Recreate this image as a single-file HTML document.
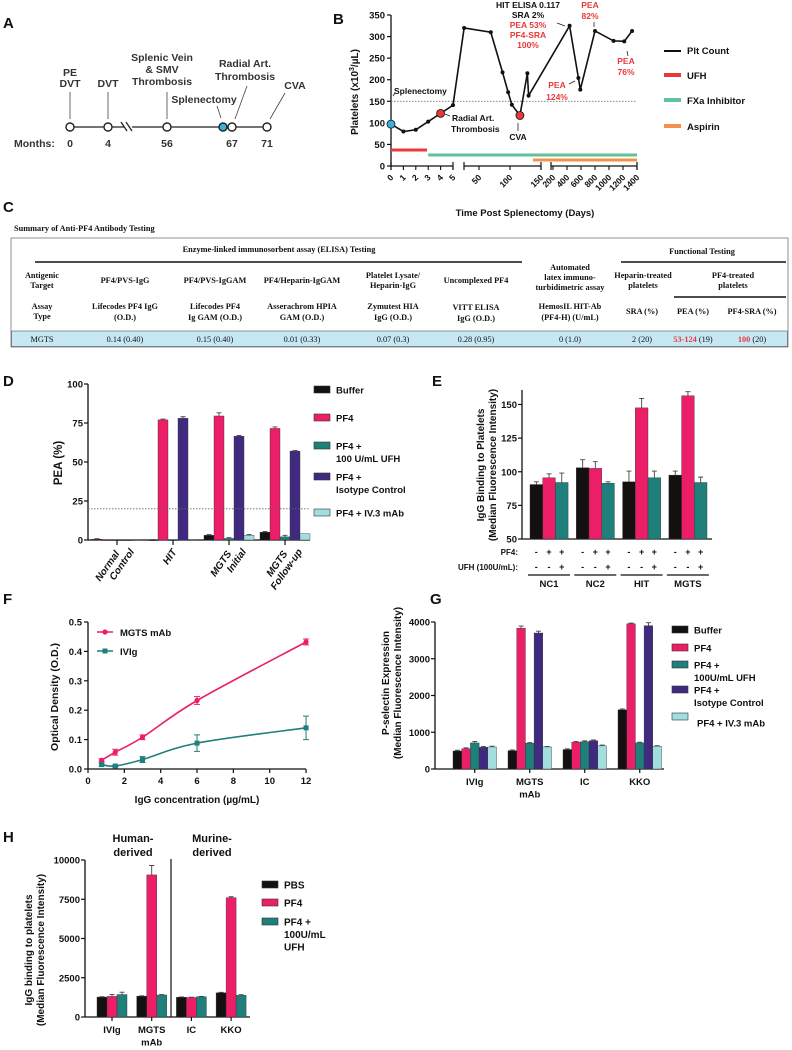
<!DOCTYPE html>
<html><head><meta charset="utf-8"><style>
html,body{margin:0;padding:0;background:#fff;}
svg{display:block;font-family:"Liberation Sans",Arial,sans-serif;}
.b{font-weight:bold;}
.tb{font-family:"Liberation Serif",serif;font-weight:bold;font-size:8.3px;fill:#111;}
</style></head><body>
<svg id="fig" width="792" height="1050" viewBox="0 0 792 1050" xmlns="http://www.w3.org/2000/svg">
<rect x="0" y="0" width="792" height="1050" fill="#fff"/>
<!-- Panel labels -->
<g class="b" font-size="15" fill="#111">
<text x="3" y="28">A</text>
<text x="333" y="24">B</text>
<text x="3" y="212">C</text>
<text x="3" y="386">D</text>
<text x="432" y="386">E</text>
<text x="3" y="604">F</text>
<text x="430" y="604">G</text>
<text x="3" y="842">H</text>
</g>

<!-- Panel A timeline -->
<g id="timeline" font-size="10.5" font-weight="600" fill="#333" text-anchor="middle">
<line x1="70" y1="127" x2="124" y2="127" stroke="#222" stroke-width="1.3"/>
<line x1="132" y1="127" x2="267" y2="127" stroke="#222" stroke-width="1.3"/>
<line x1="121" y1="122" x2="127" y2="131" stroke="#222" stroke-width="1.3"/>
<line x1="126" y1="122" x2="132" y2="131" stroke="#222" stroke-width="1.3"/>
<text x="70" y="76">PE</text>
<text x="70" y="87">DVT</text>
<text x="108" y="87">DVT</text>
<text x="162" y="61">Splenic Vein</text>
<text x="162" y="73">&amp; SMV</text>
<text x="162" y="85">Thrombosis</text>
<text x="204" y="103">Splenectomy</text>
<text x="245" y="67">Radial Art.</text>
<text x="245" y="80">Thrombosis</text>
<text x="295" y="89">CVA</text>
<g stroke="#444" stroke-width="0.8">
<line x1="70" y1="92" x2="70" y2="119"/><line x1="108" y1="92" x2="108" y2="119"/><line x1="167" y1="92" x2="167" y2="119"/>
<line x1="217" y1="106" x2="221" y2="118"/><line x1="247" y1="86" x2="235" y2="119"/><line x1="285" y1="93" x2="270" y2="119"/>
</g>
<g stroke="#222" stroke-width="1.4" fill="#fff">
<circle cx="70" cy="127" r="4"/>
<circle cx="108" cy="127" r="4"/>
<circle cx="167" cy="127" r="4"/>
<circle cx="223" cy="127" r="4" fill="#3ab0e0"/>
<circle cx="232" cy="127" r="4"/>
<circle cx="267" cy="127" r="4"/>
</g>
<text x="14" y="147" text-anchor="start">Months:</text>
<text x="70" y="147">0</text><text x="108" y="147">4</text><text x="167" y="147">56</text><text x="232" y="147">67</text><text x="267" y="147">71</text>
</g>

<!-- Panel B -->
<g id="panelB"></g>
<g font-size="9" font-weight="bold" fill="#111">
<text x="525" y="216" text-anchor="middle" font-size="9.5">Time Post Splenectomy (Days)</text>
<text transform="translate(358,92) rotate(-90)" text-anchor="middle" font-size="10">Platelets (x10<tspan font-size="7" dy="-4">3</tspan><tspan dy="4">/µL)</tspan></text>
<text x="394" y="94" font-size="8.5">Splenectomy</text>
<text x="452" y="121" font-size="8.5">Radial Art.</text>
<text x="451" y="132" font-size="8.5">Thrombosis</text>
<text x="518" y="140" text-anchor="middle" font-size="8.5">CVA</text>
<text x="528" y="8" text-anchor="middle" font-size="8.5">HIT ELISA 0.117</text>
<text x="528" y="18" text-anchor="middle" font-size="8.5">SRA 2%</text>
<g fill="#e8393a" font-size="8.5" text-anchor="middle">
<text x="528" y="28">PEA 53%</text>
<text x="528" y="38">PF4-SRA</text><text x="528" y="48">100%</text>
<text x="590" y="8">PEA</text><text x="590" y="19">82%</text>
<text x="557" y="88">PEA</text><text x="557" y="100">124%</text>
<text x="626" y="64">PEA</text><text x="626" y="75">76%</text>
</g>
<g stroke="#222" stroke-width="0.8" fill="none">
<line x1="393" y1="96" x2="395" y2="93"/><line x1="450" y1="116" x2="445" y2="114"/><line x1="518" y1="131" x2="518" y2="123"/>
<line x1="557" y1="23" x2="565" y2="26"/><line x1="569" y1="84" x2="575" y2="81"/><line x1="594" y1="22" x2="594" y2="27"/><line x1="628" y1="56" x2="627" y2="51"/>
</g>
<g font-size="9.5">
<line x1="664" y1="51" x2="681" y2="51" stroke="#111" stroke-width="2"/><text x="687" y="54">Plt Count</text>
<line x1="664" y1="75" x2="681" y2="75" stroke="#e8393a" stroke-width="4"/><text x="687" y="79">UFH</text>
<line x1="664" y1="100" x2="681" y2="100" stroke="#5fc29a" stroke-width="4"/><text x="687" y="104">FXa Inhibitor</text>
<line x1="664" y1="126" x2="681" y2="126" stroke="#f4924a" stroke-width="4"/><text x="687" y="130">Aspirin</text>
</g>
</g>

<!-- Panel C table -->
<g id="tableC">
<text x="14" y="231" class="tb" font-size="9">Summary of Anti-PF4 Antibody Testing</text>
<rect x="11" y="238" width="777" height="109" fill="none" stroke="#777" stroke-width="0.8"/>
<rect x="11.5" y="331" width="776" height="15.5" fill="#c6e7f4" stroke="#555" stroke-width="0.6"/>
<line x1="35" y1="262" x2="522" y2="262" stroke="#111" stroke-width="1.5"/>
<line x1="621" y1="262" x2="786" y2="262" stroke="#111" stroke-width="1.5"/>
<line x1="674" y1="297" x2="786" y2="297" stroke="#111" stroke-width="1.5"/>
<g class="tb" text-anchor="middle">
<text x="279" y="252">Enzyme-linked immunosorbent assay (ELISA) Testing</text>
<text x="702" y="254">Functional  Testing</text>
<text x="42" y="278">Antigenic</text><text x="42" y="288">Target</text>
<text x="125" y="283">PF4/PVS-IgG</text>
<text x="215" y="283">PF4/PVS-IgGAM</text>
<text x="302" y="283">PF4/Heparin-IgGAM</text>
<text x="393" y="278">Platelet Lysate/</text><text x="393" y="288">Heparin-IgG</text>
<text x="476" y="283">Uncomplexed PF4</text>
<text x="570" y="270">Automated</text><text x="570" y="280">latex immuno-</text><text x="570" y="290">turbidimetric assay</text>
<text x="643" y="278">Heparin-treated</text><text x="643" y="288">platelets</text>
<text x="733" y="278">PF4-treated</text><text x="733" y="288">platelets</text>
<text x="42" y="309">Assay</text><text x="42" y="319">Type</text>
<text x="125" y="309">Lifecodes PF4 IgG</text><text x="125" y="320">(O.D.)</text>
<text x="215" y="309">Lifecodes PF4</text><text x="215" y="320">Ig GAM (O.D.)</text>
<text x="302" y="309">Asserachrom HPIA</text><text x="302" y="320">GAM (O.D.)</text>
<text x="393" y="309">Zymutest HIA</text><text x="393" y="320">IgG (O.D.)</text>
<text x="476" y="310">VITT ELISA</text><text x="476" y="321">IgG (O.D.)</text>
<text x="570" y="309">HemosIL HIT-Ab</text><text x="570" y="320">(PF4-H) (U/mL)</text>
<text x="642" y="314">SRA (%)</text><text x="693" y="314">PEA (%)</text><text x="752" y="314">PF4-SRA (%)</text>
<g font-weight="normal">
<text x="42" y="342">MGTS</text><text x="125" y="342">0.14 (0.40)</text><text x="215" y="342">0.15 (0.40)</text>
<text x="302" y="342">0.01 (0.33)</text><text x="393" y="342">0.07 (0.3)</text><text x="476" y="342">0.28 (0.95)</text>
<text x="570" y="342">0 (1.0)</text><text x="642" y="342">2 (20)</text>
<text x="693" y="342"><tspan fill="#e8393a" font-weight="bold">53-124</tspan> (19)</text>
<text x="752" y="342"><tspan fill="#e8393a" font-weight="bold">100</tspan> (20)</text>
</g>
</g>
</g>

<g id="panelD"></g>
<g id="panelE"></g>
<g id="panelF"></g>
<g id="panelG"></g>
<g id="panelH"></g>
</svg>
<script>
// ---------- DATA ----------
// Panel B
const bDays = [0,1,2,3,4,5,26,69,88,97,103,116,128,130,437,563,590,800,1065,1218,1330];
const bPlatelets = [97,80,84,103,122,141,320,310,217,171,142,117,215,163,325,204,177,313,290,289,313];
const bYTicks = [0,50,100,150,200,250,300,350];
const bXTicks = [0,1,2,3,4,5,50,100,150,200,400,600,800,1000,1200,1400];
const bThreshold = 150;
const bUfh = [0,2.9];
const bFxa = [3,1400];
const bAspirin = [137,1400];
// Panel D
const dCategories = ['Normal|Control','HIT','MGTS|Initial','MGTS|Follow-up'];
const dBuffer = [0.5,0,3,5];
const dPF4 = [0,77,79.5,71.5];
const dUFH = [0,0,1,2];
const dIso = [0,78,66.5,57];
const dIV3 = [0,0,3,4];
const dErr = [[0.3,0.3,0.5,0.5],[0,0.5,2,1],[0,0,0.5,1],[0,1,0.5,0.3],[0,0,0.5,0]];
const dYTicks = [0,25,50,75,100];
const dThreshold = 20;
// Panel E
const eCategories = ['NC1','NC2','HIT','MGTS'];
const eBuffer = [90.5,103,92.5,97.5];
const ePF4 = [95.5,102.5,147.5,156.5];
const eUFH = [92,91.5,95.5,92];
const eBufferErr = [2,6,8,3];
const ePF4Err = [3,5,7,3];
const eUFHErr = [7,1,5,4];
const eYTicks = [50,75,100,125,150];
// Panel F
const fConc = [0.75,1.5,3,6,12];
const fMGTS = [0.030,0.057,0.108,0.233,0.432];
const fMGTSErr = [0.005,0.010,0.008,0.013,0.010];
const fIVIg = [0.015,0.010,0.032,0.088,0.140];
const fIVIgErr = [0.005,0.003,0.010,0.028,0.040];
const fXTicks = [0,2,4,6,8,10,12];
const fYTicks = [0,0.1,0.2,0.3,0.4,0.5];
// Panel G
const gCategories = ['IVIg','MGTS|mAb','IC','KKO'];
const gBuffer = [490,500,530,1610];
const gPF4 = [550,3830,730,3950];
const gUFH = [710,700,740,710];
const gIso = [590,3700,770,3900];
const gIV3 = [600,600,630,620];
const gYTicks = [0,1000,2000,3000,4000];
// Panel H
const hCategories = ['IVIg','MGTS|mAb','IC','KKO'];
const hPBS = [1270,1330,1260,1540];
const hPF4 = [1310,9050,1240,7600];
const hUFH = [1430,1400,1290,1380];
const hPF4Err = [130,600,20,60];
const hUFHErr = [150,30,20,40];
const hYTicks = [0,2500,5000,7500,10000];

const NS='http://www.w3.org/2000/svg';
const C={black:'#141010',pink:'#ec1e67',teal:'#1f7f7b',purple:'#3f2a80',cyan:'#a2dede'};
function mk(parent,tag,attrs,txt){const e=document.createElementNS(NS,tag);for(const k in attrs)e.setAttribute(k,attrs[k]);if(txt!==undefined)e.textContent=txt;parent.appendChild(e);return e;}

// ---------- Panel B ----------
(function(){
const g=document.getElementById('panelB');
const bx=d=>d<=5?391+d*12.4:(d<=150?479+(d-50)*0.62:553+(d-200)*0.07);
const by=v=>166-v*0.4314;
let el;
el=mk(g,'line',{x1:391,y1:by(0),x2:391,y2:by(350),stroke:'#111','stroke-width':1.3});


bYTicks.forEach(t=>{
 el=mk(g,'line',{x1:387,y1:by(t),x2:391,y2:by(t),stroke:'#111','stroke-width':1.2});
 
 
 el=mk(g,'text',{x:385,y:by(t)+3.5,'text-anchor':'end','font-size':9.5,'font-weight':'bold',fill:'#111'},t);
 
 
});
[[391,453],[464,541],[551,637]].forEach(s=>{
 el=mk(g,'line',{x1:s[0],y1:166,x2:s[1],y2:166,stroke:'#111','stroke-width':1.3});
 
 
 [s[0],s[1]].forEach(x=>{el=mk(g,'line',{x1:x,y1:162,x2:x,y2:170,stroke:'#111','stroke-width':1.2});
 
 });
});
bXTicks.forEach(t=>{
 const x=bx(t);
 el=mk(g,'line',{x1:x,y1:166,x2:x,y2:170,stroke:'#111','stroke-width':1.1});
 
 
 el=mk(g,'text',{x:x+3,y:178,'text-anchor':'end','font-size':8.5,'font-weight':'bold',fill:'#111',transform:`rotate(-45 ${x+3} 178)`},t);
 
 
});
el=mk(g,'line',{x1:391,y1:by(bThreshold),x2:637,y2:by(bThreshold),stroke:'#777','stroke-width':0.8,'stroke-dasharray':'1.5,1.5'});


el=mk(g,'line',{x1:bx(bUfh[0]),y1:150,x2:bx(bUfh[1]),y2:150,stroke:'#e8393a','stroke-width':3});


el=mk(g,'line',{x1:bx(bFxa[0]),y1:155,x2:bx(bFxa[1]),y2:155,stroke:'#5fc29a','stroke-width':3});


el=mk(g,'line',{x1:bx(bAspirin[0]),y1:160,x2:bx(bAspirin[1]),y2:160,stroke:'#f4924a','stroke-width':3});


el=mk(g,'polyline',{points:bDays.map((d,i)=>bx(d)+','+by(bPlatelets[i])).join(' '),fill:'none',stroke:'#111','stroke-width':1.6});


bDays.forEach((d,i)=>{
 let fill='#111',r=2;
 if(i===0){fill='#3ab0e0';r=4;} else if(i===4||i===11){fill='#e8393a';r=4;}
 el=mk(g,'circle',{cx:bx(d),cy:by(bPlatelets[i]),r:r,fill:fill,stroke:'#111','stroke-width':r>2?0.8:0});
 
 
});
})();

// generic grouped-bar helper
function barChart(g,opt){
 let el;
 const {x0,xEnd,y,yTicks,tickFmt,series,colors,errs,start,step,bw,fs}=opt;
 el=mk(g,'line',{x1:x0,y1:y(yTicks[0]),x2:x0,y2:opt.yTop||y(yTicks[yTicks.length-1]),stroke:'#111','stroke-width':1.3});
 
 
 el=mk(g,'line',{x1:x0,y1:y(yTicks[0]),x2:xEnd,y2:y(yTicks[0]),stroke:'#111','stroke-width':1.3});
 
 
 yTicks.forEach(t=>{
  el=mk(g,'line',{x1:x0-4,y1:y(t),x2:x0,y2:y(t),stroke:'#111','stroke-width':1.2});
  
  
  el=mk(g,'text',{x:x0-5,y:y(t)+3.5,'text-anchor':'end','font-size':fs||9.5,'font-weight':'bold',fill:'#111'},tickFmt?tickFmt(t):t);
  
  
 });
 series.forEach((s,si)=>{
  s.forEach((v,ci)=>{
   const x=start+ci*step+si*bw;
   const yb=y(yTicks[0]),yv=y(v);
   el=mk(g,'rect',{x:x,y:Math.min(yv,yb),width:bw,height:Math.max(Math.abs(yb-yv),0.6),fill:colors[si],stroke:'#333','stroke-width':0.4});
   
   
   const e=errs&&errs[si]?errs[si][ci]:0;
   if(e>0){
    el=mk(g,'path',{d:`M${x+bw/2},${yv} V${y(v+e)} M${x+bw/2-2.5},${y(v+e)} H${x+bw/2+2.5}`,stroke:'#444','stroke-width':0.9,fill:'none'});
    
    
   }
  });
 });
}
function legend(g,items,x,fs){
 items.forEach(it=>{
  let el=mk(g,'rect',{x:x,y:it.y-4,width:16,height:7,fill:it.c,stroke:'#333','stroke-width':0.6});
  
  
  it.t.forEach((t,k)=>{
   el=mk(g,'text',{x:x+(it.dx||22),y:it.y+3.5+k*12.5+(it.ty||0),'font-size':fs||9.5,'font-weight':'bold',fill:'#111'},t);
   
   
  });
 });
}

// ---------- Panel D ----------
(function(){
const g=document.getElementById('panelD');
const y=v=>540-v*1.56;
barChart(g,{x0:88,xEnd:310,y:y,yTicks:dYTicks,series:[dBuffer,dPF4,dUFH,dIso,dIV3],colors:[C.black,C.pink,C.teal,C.purple,C.cyan],errs:dErr,start:92,step:56,bw:10,names:['buffer','pf4','pf4-ufh','pf4-isotype','pf4-iv3']});
let el=mk(g,'line',{x1:88,y1:y(dThreshold),x2:310,y2:y(dThreshold),stroke:'#666','stroke-width':0.8,'stroke-dasharray':'1.5,1.5'});


dCategories.forEach((c,i)=>{
 const cx=117+i*56;
 el=mk(g,'line',{x1:cx,y1:540,x2:cx,y2:545,stroke:'#111','stroke-width':1.2});
 
 
 const parts=c.split('|');
 el=mk(g,'text',{x:cx+4,y:552,'text-anchor':'end','font-size':10,'font-weight':'bold','font-style':'italic',fill:'#111',transform:`rotate(-55 ${cx+4} 552)`});
 
 
 parts.forEach((p,k)=>{const ts=mk(el,'tspan',{x:cx+4,dy:k?11:(parts.length>1?0:0)},p);});
 if(parts.length>1){el.firstChild.setAttribute('dx','-2');el.childNodes[1].setAttribute('x',cx+12);}
});
el=mk(g,'text',{transform:'translate(62,463) rotate(-90)','text-anchor':'middle','font-size':11.5,'font-weight':'bold',fill:'#111'},'PEA (%)');


legend(g,[{y:390,c:C.black,t:['Buffer']},{y:418,c:C.pink,t:['PF4']},{y:446,c:C.teal,t:['PF4 +','100 U/mL UFH']},{y:477,c:C.purple,t:['PF4 +','Isotype Control']},{y:513,c:C.cyan,t:['PF4 + IV.3 mAb']}],314,9.5);
})();

// ---------- Panel E ----------
(function(){
const g=document.getElementById('panelE');
const y=v=>539-(v-50)*1.345;
barChart(g,{x0:522,xEnd:712,y:y,yTicks:eYTicks,yTop:390,series:[eBuffer,ePF4,eUFH],colors:[C.black,C.pink,C.teal],errs:[eBufferErr,ePF4Err,eUFHErr],start:530,step:46.3,bw:12.7,names:['buffer','pf4','pf4-ufh']});
let el;
el=mk(g,'text',{x:518,y:555,'text-anchor':'end','font-size':8,'font-weight':'bold',fill:'#111'},'PF4:');


el=mk(g,'text',{x:518,y:570,'text-anchor':'end','font-size':8,'font-weight':'bold',fill:'#111'},'UFH (100U/mL):');


const pf=['-','+','+'],uf=['-','-','+'];
eCategories.forEach((c,i)=>{
 const s=530+i*46.3;
 for(let k=0;k<3;k++){
  el=mk(g,'text',{x:s+k*12.7+6.3,y:555,'text-anchor':'middle','font-size':9,'font-weight':'bold',fill:'#111'},pf[k]);
  
  
  el=mk(g,'text',{x:s+k*12.7+6.3,y:570,'text-anchor':'middle','font-size':9,'font-weight':'bold',fill:'#111'},uf[k]);
  
  
 }
 el=mk(g,'line',{x1:s-2,y1:575,x2:s+40,y2:575,stroke:'#111','stroke-width':1.3});
 
 
 el=mk(g,'text',{x:s+19,y:587,'text-anchor':'middle','font-size':9.5,'font-weight':'bold',fill:'#111'},c);
 
 
});
el=mk(g,'text',{transform:'translate(484,465) rotate(-90)','text-anchor':'middle','font-size':10,'font-weight':'bold',fill:'#111'},'IgG Binding to Platelets');


el=mk(g,'text',{transform:'translate(496,465) rotate(-90)','text-anchor':'middle','font-size':10,'font-weight':'bold',fill:'#111'},'(Median Fluorescence Intensity)');


})();

// ---------- Panel F ----------
(function(){
const g=document.getElementById('panelF');
const fx=c=>88+c*18.17, fy=o=>769-o*294;
let el;
el=mk(g,'line',{x1:88,y1:fy(0),x2:88,y2:fy(0.5),stroke:'#111','stroke-width':1.3});


el=mk(g,'line',{x1:88,y1:fy(0),x2:fx(12),y2:fy(0),stroke:'#111','stroke-width':1.3});


fYTicks.forEach(t=>{
 el=mk(g,'line',{x1:84,y1:fy(t),x2:88,y2:fy(t),stroke:'#111','stroke-width':1.2});
 
 
 el=mk(g,'text',{x:82,y:fy(t)+3.5,'text-anchor':'end','font-size':9.5,'font-weight':'bold',fill:'#111'},t.toFixed(1));
 
 
});
fXTicks.forEach(t=>{
 el=mk(g,'line',{x1:fx(t),y1:769,x2:fx(t),y2:773,stroke:'#111','stroke-width':1.2});
 
 
 el=mk(g,'text',{x:fx(t),y:784,'text-anchor':'middle','font-size':9.5,'font-weight':'bold',fill:'#111'},t);
 
 
});
function curve(xs,ys){
 // Catmull-Rom smoothing through measured points
 const p=xs.map((x,i)=>[fx(x),fy(ys[i])]);
 let d=`M${p[0][0]},${p[0][1]}`;
 for(let i=0;i<p.length-1;i++){
  const p0=p[Math.max(i-1,0)],p1=p[i],p2=p[i+1],p3=p[Math.min(i+2,p.length-1)];
  d+=` C${p1[0]+(p2[0]-p0[0])/6},${p1[1]+(p2[1]-p0[1])/6} ${p2[0]-(p3[0]-p1[0])/6},${p2[1]-(p3[1]-p1[1])/6} ${p2[0]},${p2[1]}`;
 }
 return d;
}
[[fMGTS,fMGTSErr,C.pink,'mgts'],[fIVIg,fIVIgErr,C.teal,'ivig']].forEach(([vals,errs,col,nm])=>{
 el=mk(g,'path',{d:curve(fConc,vals),fill:'none',stroke:col,'stroke-width':1.6});
 
 
 fConc.forEach((c,i)=>{
  const x=fx(c);
  el=mk(g,'path',{d:`M${x},${fy(vals[i]-errs[i])} V${fy(vals[i]+errs[i])} M${x-3},${fy(vals[i]-errs[i])} H${x+3} M${x-3},${fy(vals[i]+errs[i])} H${x+3}`,stroke:col,'stroke-width':1,fill:'none'});
  
  
  if(nm==='mgts'){el=mk(g,'circle',{cx:x,cy:fy(vals[i]),r:2.6,fill:col});}
  else{el=mk(g,'rect',{x:x-2.5,y:fy(vals[i])-2.5,width:5,height:5,fill:col});}
  
  
 });
});
el=mk(g,'line',{x1:97,y1:632,x2:113,y2:632,stroke:C.pink,'stroke-width':1.5});


el=mk(g,'circle',{cx:105,cy:632,r:2.6,fill:C.pink});


el=mk(g,'text',{x:120,y:636,'font-size':9.5,'font-weight':'bold',fill:'#111'},'MGTS mAb');


el=mk(g,'line',{x1:97,y1:651,x2:113,y2:651,stroke:C.teal,'stroke-width':1.5});


el=mk(g,'rect',{x:102.5,y:648.5,width:5,height:5,fill:C.teal});


el=mk(g,'text',{x:120,y:655,'font-size':9.5,'font-weight':'bold',fill:'#111'},'IVIg');


el=mk(g,'text',{transform:'translate(58,697) rotate(-90)','text-anchor':'middle','font-size':10.5,'font-weight':'bold',fill:'#111'},'Optical Density (O.D.)');


el=mk(g,'text',{x:197,y:803,'text-anchor':'middle','font-size':10,'font-weight':'bold',fill:'#111'},'IgG concentration (µg/mL)');


})();

function catLabels(g,cats,start,step,bw,n,yb,fs){
 cats.forEach((c,i)=>{
  const cx=start+i*step+bw*n/2;
  let el=mk(g,'line',{x1:cx,y1:yb,x2:cx,y2:yb+4,stroke:'#111','stroke-width':1.2});
  
  
  c.split('|').forEach((p,k)=>{
   el=mk(g,'text',{x:cx,y:yb+16+k*12.5,'text-anchor':'middle','font-size':fs||9.5,'font-weight':'bold',fill:'#111'},p);
   
   
  });
 });
}

// ---------- Panel G ----------
(function(){
const g=document.getElementById('panelG');
const y=v=>769-v*0.03675;
barChart(g,{x0:435,xEnd:664,y:y,yTicks:gYTicks,series:[gBuffer,gPF4,gUFH,gIso,gIV3],colors:[C.black,C.pink,C.teal,C.purple,C.cyan],errs:[[20,20,20,25],[25,60,20,20],[40,20,25,20],[25,50,20,80],[20,15,20,15]],start:453,step:55,bw:8.7,names:['buffer','pf4','pf4-ufh','pf4-isotype','pf4-iv3']});
catLabels(g,gCategories,453,55,8.7,5,769,9.5);
let el=mk(g,'text',{transform:'translate(389,683) rotate(-90)','text-anchor':'middle','font-size':10,'font-weight':'bold',fill:'#111'},'P-selectin Expression');


el=mk(g,'text',{transform:'translate(401,683) rotate(-90)','text-anchor':'middle','font-size':10,'font-weight':'bold',fill:'#111'},'(Median Fluorescence Intensity)');


legend(g,[{y:630,c:C.black,t:['Buffer']},{y:648,c:C.pink,t:['PF4']},{y:665,c:C.teal,t:['PF4 +','100U/mL UFH']},{y:690,c:C.purple,t:['PF4 +','Isotype Control']},{y:717,c:C.cyan,t:['PF4 + IV.3 mAb'],dx:25,ty:6}],672,9.5);
})();

// ---------- Panel H ----------
(function(){
const g=document.getElementById('panelH');
const y=v=>1017-v*0.0157;
barChart(g,{x0:85,xEnd:250,y:y,yTicks:hYTicks,series:[hPBS,hPF4,hUFH],colors:[C.black,C.pink,C.teal],errs:[[20,20,20,30],hPF4Err,hUFHErr],start:97,step:39.7,bw:10,names:['pbs','pf4','pf4-ufh']});
catLabels(g,hCategories,97,39.7,10,3,1017,9.5);
let el=mk(g,'line',{x1:171,y1:859,x2:171,y2:1017,stroke:'#111','stroke-width':1.2});


[['Human-','derived',133,'human-derived-header'],['Murine-','derived',212,'murine-derived-header']].forEach(h=>{
 el=mk(g,'text',{x:h[2],y:842,'text-anchor':'middle','font-size':11,'font-weight':'bold',fill:'#111'},h[0]);
 
 
 el=mk(g,'text',{x:h[2],y:856,'text-anchor':'middle','font-size':11,'font-weight':'bold',fill:'#111'},h[1]);
 
 
});
el=mk(g,'text',{transform:'translate(32,950) rotate(-90)','text-anchor':'middle','font-size':10,'font-weight':'bold',fill:'#111'},'IgG binding to platelets');


el=mk(g,'text',{transform:'translate(44,950) rotate(-90)','text-anchor':'middle','font-size':10,'font-weight':'bold',fill:'#111'},'(Median Fluorescence Intensity)');


legend(g,[{y:885,c:C.black,t:['PBS']},{y:903,c:C.pink,t:['PF4']},{y:922,c:C.teal,t:['PF4 +','100U/mL','UFH']}],262,10);
})();
</script>
</body></html>
